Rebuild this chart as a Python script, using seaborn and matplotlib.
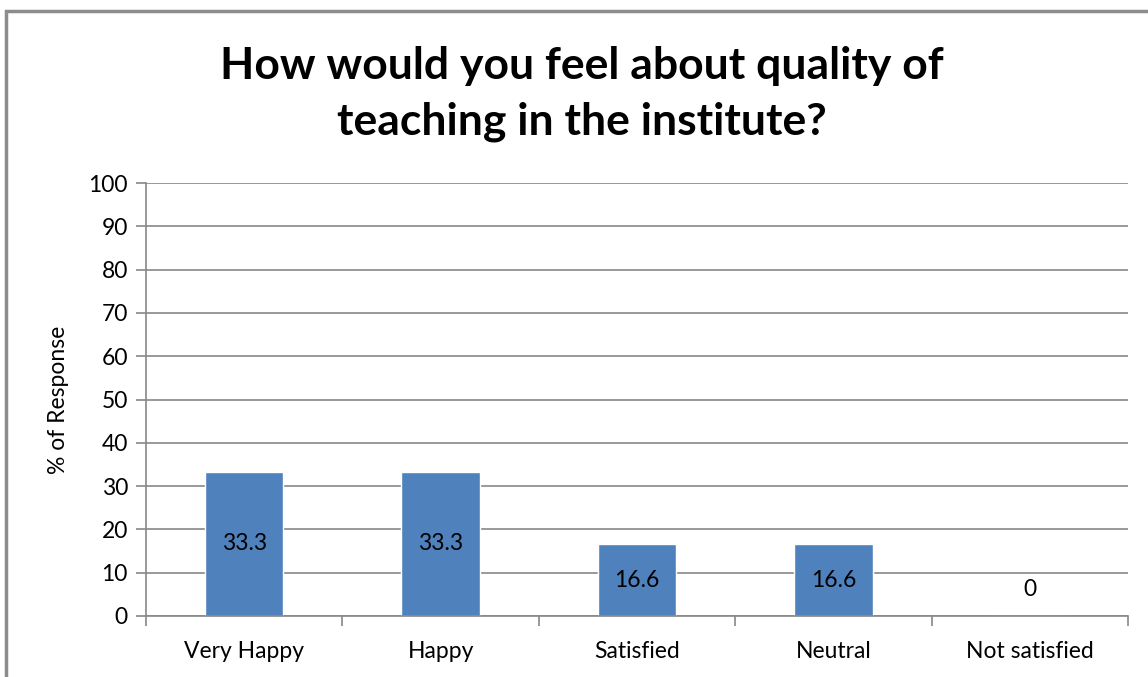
import matplotlib.pyplot as plt
import pandas as pd
import seaborn as sns
from matplotlib.patches import Rectangle

categories = ["Very Happy", "Happy", "Satisfied", "Neutral", "Not satisfied"]
responses = [33.3, 33.3, 16.6, 16.6, 0]
yticks = list(range(0, 101, 10))

df = pd.DataFrame({"category": categories, "response": responses})

sns.set_theme(style="white")
plt.rcParams['font.family'] = ['Lato', 'DejaVu Sans']
plt.rcParams['text.color'] = 'black'
plt.rcParams['axes.labelcolor'] = 'black'
plt.rcParams['xtick.color'] = 'black'
plt.rcParams['ytick.color'] = 'black'

W, H = 1148, 677
fig = plt.figure(figsize=(W / 100, H / 100), dpi=100)
ax = fig.add_axes([146 / W, 1 - 616 / H, (1128 - 146) / W, (616 - 183) / H])

sns.barplot(data=df, x="category", y="response", color="#4F81BD",
            width=0.4, saturation=1, ax=ax)

ax.set_ylim(0, 100)
ax.set_xlim(-0.5, len(categories) - 0.5)
ax.set_yticks(yticks)
ax.yaxis.grid(True, color="#888888", linewidth=1.2)
ax.set_axisbelow(True)
for s in ["top", "right"]:
    ax.spines[s].set_visible(False)
for s in ["left", "bottom"]:
    ax.spines[s].set_color("#888888")
    ax.spines[s].set_linewidth(1.2)

# category ticks sit between the bars, as in Excel
ax.set_xticks([i - 0.5 for i in range(len(categories) + 1)], minor=True)
ax.tick_params(axis="x", which="minor", length=7, color="#888888", width=1.2, direction="out")
ax.tick_params(axis="x", which="major", length=0, labelsize=16.5, pad=18)
ax.tick_params(axis="y", length=7, color="#888888", width=1.2, direction="out",
               labelsize=16.5, pad=6)
ax.tick_params(bottom=True, left=True, which="both")

ax.set_xlabel("")
ax.set_ylabel("% of Response", fontsize=16.5, labelpad=14)

for i, v in enumerate(responses):
    if v > 0:
        ax.text(i, v / 2, f"{v:g}", ha="center", va="center", fontsize=16.5)
    else:
        ax.annotate("0", (i, 0), xytext=(0, 19), textcoords="offset points",
                    ha="center", va="center", fontsize=16.5)

fig.text(582 / W, 1 - 94 / H,
         "How would you feel about quality of\nteaching in the institute?",
         ha="center", va="center", fontsize=32, fontweight="bold",
         linespacing=1.5)

fig.patches.append(Rectangle((6 / W, -0.1), 1.2, 1 - 11 / H + 0.1,
                             transform=fig.transFigure, fill=False,
                             edgecolor="#8c8c8c", linewidth=2.5))

fig.savefig("out.png", dpi=100)
